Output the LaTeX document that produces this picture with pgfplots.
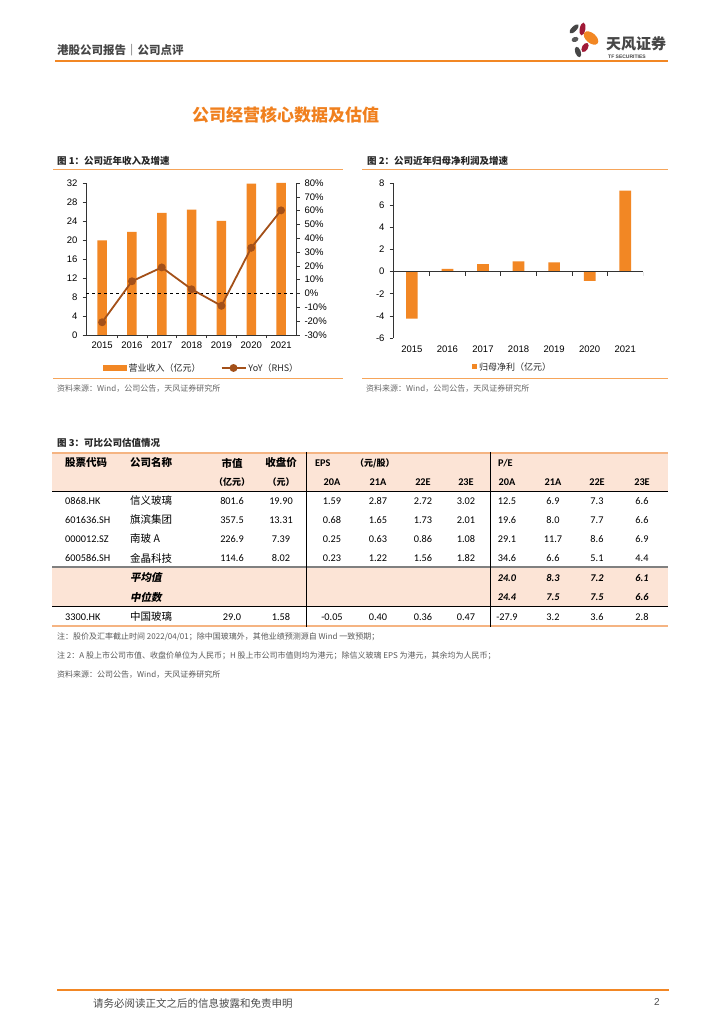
\documentclass[border=0pt]{standalone}
\usepackage{pgfplots}
\usepackage{pgfplotstable}
\pgfplotsset{compat=1.18}
\usepackage{fontspec}
\setmainfont{Liberation Sans}
\newfontfamily\cjk{Noto Sans CJK SC}
\newfontfamily\cjkbi{Noto Sans CJK SC}[FakeSlant=0.2]
\newfontfamily\calfont{Carlito}
\definecolor{tforange}{RGB}{242,135,36}
\definecolor{tfline}{RGB}{246,165,90}
\definecolor{tfbrown}{RGB}{163,80,25}
\definecolor{peach}{RGB}{252,228,214}
\definecolor{tfred}{RGB}{160,25,55}
\definecolor{tfgray}{RGB}{70,70,70}
\definecolor{titleorange}{RGB}{240,128,30}
\definecolor{tabline}{RGB}{245,180,130}

\pgfplotstableread{
year rev yoy
2015 19.9 -20.8
2016 21.7 8.9
2017 25.7 18.9
2018 26.4 3.1
2019 24.05 -8.9
2020 31.85 33.1
2021 32.0 60.2
}\revtable

\pgfplotstableread{
year np
2015 -4.26
2016 0.24
2017 0.66
2018 0.93
2019 0.84
2020 -0.84
2021 7.31
}\nptable

\newcommand{\tnum}{\calfont\fontsize{10.3}{12}\selectfont}
\newcommand{\tcn}{\cjk\fontsize{10.5}{12}\selectfont}
\newcommand{\tcnb}{\cjk\bfseries\fontsize{10.5}{12}\selectfont}
\newcommand{\tnumb}{\calfont\bfseries\fontsize{10.3}{12}\selectfont}
\newcommand{\tnumbi}{\calfont\bfseries\itshape\fontsize{10.3}{12}\selectfont}

\begin{document}
\begin{tikzpicture}[x=1pt,y=1pt]
\fill[white] (0,0) rectangle (724,1024);
\useasboundingbox (0,0) rectangle (724,1024);

% ---------------- Chart 1 ----------------
\begin{axis}[
  at={(86pt,689pt)}, anchor=south west,
  scale only axis, width=210pt, height=152pt,
  xmin=2014.46, xmax=2021.5, ymin=0, ymax=32,
  axis x line*=bottom, axis y line*=left,
  axis line style={black!80, line width=0.6pt},
  tick align=outside,
  ytick={0,4,...,32},
  xtick={2015.5,2016.5,2017.5,2018.5,2019.5,2020.5},
  xticklabels={},
  major tick length=3.5pt,
  extra x ticks={2015,2016,2017,2018,2019,2020,2021},
  extra x tick labels={2015,2016,2017,2018,2019,2020,2021},
  extra x tick style={major tick length=0pt},
  xticklabel style={yshift=-3.5pt},
  yticklabel style={xshift=-1.5pt},
  tick style={black!80, line width=0.6pt},
  tick label style={font=\fontsize{9.5}{10}\selectfont, black},
  /pgf/number format/assume math mode=true,
  ybar, bar width=9.5pt,
]
\addplot[fill=tforange, draw=none] table[x=year,y=rev]{\revtable};
\end{axis}

\begin{axis}[
  at={(86pt,689pt)}, anchor=south west,
  scale only axis, width=210pt, height=152pt,
  xmin=2014.46, xmax=2021.5, ymin=-30, ymax=80,
  axis y line*=right, axis x line=none,
  axis line style={black!80, line width=0.6pt},
  tick align=outside, major tick length=3.5pt,
  tick style={black!80, line width=0.6pt},
  ytick={-30,-20,...,80},
  yticklabels={-30\%,-20\%,-10\%,0\%,10\%,20\%,30\%,40\%,50\%,60\%,70\%,80\%},
  yticklabel style={xshift=1.5pt},
  tick label style={font=\fontsize{9.5}{10}\selectfont, black},
  legend style={at={(0.081,-0.217)}, anchor=west, draw=none, fill=none,
    legend columns=2, inner sep=0pt,
    font=\cjk\fontsize{9}{10}\selectfont\color{black!85},
    /tikz/every even column/.append style={column sep=18pt}},
  legend cell align=left,
]
\addlegendimage{legend image code/.code={\fill[tforange] (0pt,-2.5pt) rectangle (23pt,2.5pt);}}
\addlegendentry{营业收入（亿元）}
\draw[dashed, black, line width=0.6pt] (axis cs:2014.46,0) -- (axis cs:2021.5,0);
\addplot[tfbrown, line width=1.8pt, mark=*, mark size=3pt, mark options={fill=tfbrown},
  legend image code/.code={\draw[tfbrown,line width=1.8pt] (0pt,0pt) -- (24pt,0pt); \fill[tfbrown] (12pt,0pt) circle (3pt);}]
  table[x=year,y=yoy]{\revtable};
\addlegendentry{YoY（RHS）}
\end{axis}

% ---------------- Chart 2 ----------------
\begin{axis}[
  at={(393pt,686pt)}, anchor=south west,
  scale only axis, width=250pt, height=155pt,
  xmin=2014.47, xmax=2021.5, ymin=-6, ymax=8,
  axis y line*=left, axis x line*=bottom,
  x axis line style={draw=none},
  axis line style={black!80, line width=0.6pt},
  tick align=outside, major tick length=3.5pt,
  tick style={black!80, line width=0.6pt},
  ytick={-6,-4,...,8},
  xtick=\empty,
  extra x ticks={2015,2016,2017,2018,2019,2020,2021},
  extra x tick labels={2015,2016,2017,2018,2019,2020,2021},
  extra x tick style={major tick length=0pt},
  xticklabel style={yshift=-4.5pt},
  yticklabel style={xshift=-1.5pt},
  tick label style={font=\fontsize{9.5}{10}\selectfont, black},
  /pgf/number format/assume math mode=true,
  ybar, bar width=11.7pt,
  legend style={at={(0.316,-0.187)}, anchor=west, draw=none, fill=none, inner sep=0pt,
    font=\cjk\fontsize{9}{10}\selectfont\color{black!85}},
]
\addplot[fill=tforange, draw=none,
  legend image code/.code={\fill[tforange] (0pt,-2.5pt) rectangle (5pt,2.5pt);}]
  table[x=year,y=np]{\nptable};
\addlegendentry{归母净利（亿元）}
\draw[black!80, line width=0.6pt] (axis cs:2014.47,0) -- (axis cs:2021.5,0);
\draw[black!80, line width=0.6pt] (axis cs:2015.5,0) -- ++(0pt,-4pt);
\draw[black!80, line width=0.6pt] (axis cs:2016.5,0) -- ++(0pt,-4pt);
\draw[black!80, line width=0.6pt] (axis cs:2017.5,0) -- ++(0pt,-4pt);
\draw[black!80, line width=0.6pt] (axis cs:2018.5,0) -- ++(0pt,-4pt);
\draw[black!80, line width=0.6pt] (axis cs:2019.5,0) -- ++(0pt,-4pt);
\draw[black!80, line width=0.6pt] (axis cs:2020.5,0) -- ++(0pt,-4pt);
\draw[black!80, line width=0.6pt] (axis cs:2021.5,0) -- ++(0pt,-4pt);
\end{axis}

% ---------------- page elements (y measured downward) ----------------
\begin{scope}[yshift=1024pt, y=-1pt]
% header
\node[anchor=west, font=\cjk\bfseries\fontsize{11.5}{12}\selectfont, text=tfgray, inner sep=0pt] at (57,50) {港股公司报告｜公司点评};
\draw[tforange, line width=1.5pt] (55,61) -- (668,61);
% logo
\fill[tfgray, rotate around={45:(574,29)}] (574,29) ellipse (6 and 2.5);
\fill[tfred, rotate around={80:(582.5,29)}] (582.5,29) ellipse (6.5 and 2.8);
\fill[tforange, rotate around={-40:(591,38)}] (591,38) ellipse (8.5 and 5);
\fill[tfgray!90, rotate around={20:(575,39.5)}] (575,39.5) ellipse (3.5 and 2.5);
\fill[tfred, rotate around={60:(585,47.5)}] (585,47.5) ellipse (5 and 3);
\fill[tfgray, rotate around={-70:(578,52)}] (578,52) ellipse (5.5 and 2.8);
\node[anchor=west, font=\cjk\bfseries\fontsize{15}{16}\selectfont, text=tfgray, inner sep=0pt] at (606,44) {天风证券};
\node[anchor=west, font=\bfseries\fontsize{5}{6}\selectfont, text=tfgray, inner sep=0pt] at (608,56.5) {TF SECURITIES};
% title
\node[font=\cjk\bfseries\fontsize{17}{18}\selectfont, text=titleorange, inner sep=0pt] at (285.5,115) {公司经营核心数据及估值};

% figure titles
\node[anchor=west, font=\cjk\bfseries\fontsize{9.5}{10}\selectfont, text=black!85, inner sep=0pt] at (57,161) {图 1：公司近年收入及增速};
\node[anchor=west, font=\cjk\bfseries\fontsize{9.5}{10}\selectfont, text=black!85, inner sep=0pt] at (367,161) {图 2：公司近年归母净利润及增速};
\draw[tfline, line width=1pt] (53,170) -- (343,170);
\draw[tfline, line width=1pt] (362,170) -- (668,170);
\draw[tfline, line width=1pt] (53,379) -- (343,379);
\draw[tfline, line width=1pt] (362,379) -- (668,379);
\node[anchor=west, font=\cjk\fontsize{8}{9}\selectfont, text=black!60, inner sep=0pt] at (57,389) {资料来源：Wind，公司公告，天风证券研究所};
\node[anchor=west, font=\cjk\fontsize{8}{9}\selectfont, text=black!60, inner sep=0pt] at (366,389) {资料来源：Wind，公司公告，天风证券研究所};

% table
\node[anchor=west, font=\cjk\bfseries\fontsize{9.5}{10}\selectfont, text=black!85, inner sep=0pt] at (57,443) {图 3：可比公司估值情况};
\fill[peach] (52,453) rectangle (668,491);
\fill[peach] (52,567) rectangle (668,606);
\draw[tabline, line width=2pt] (52,453) -- (668,453);
\draw[tabline, line width=2pt] (52,626) -- (668,626);
\draw[black, line width=0.9pt] (52,491) -- (668,491);
\draw[black!50, line width=2pt] (52,567) -- (668,567);
\draw[black, line width=0.9pt] (52,606) -- (668,606);
\draw[black, line width=0.9pt] (306,452) -- (306,627);
\draw[black, line width=0.9pt] (490,452) -- (490,627);

\begin{scope}[every node/.style={inner sep=0pt}]
% header row 1
\node[anchor=west, font=\tcnb] at (65,463) {股票代码};
\node[anchor=west, font=\tcnb] at (130,463) {公司名称};
\node[font=\tcnb] at (232,463) {市值};
\node[font=\tcnb] at (281,463) {收盘价};
\node[anchor=west, font=\tnumb] at (315,463) {EPS};
\node[anchor=west, font=\cjk\bfseries\fontsize{9}{10}\selectfont] at (355,463) {（元/股）};
\node[anchor=west, font=\tnumb] at (498,463) {P/E};
% header row 2
\node[font=\cjk\bfseries\fontsize{9}{10}\selectfont] at (232,482) {（亿元）};
\node[font=\cjk\bfseries\fontsize{9}{10}\selectfont] at (281,482) {（元）};
\node[font=\tnumb] at (332,482) {20A};
\node[font=\tnumb] at (378,482) {21A};
\node[font=\tnumb] at (423,482) {22E};
\node[font=\tnumb] at (466,482) {23E};
\node[font=\tnumb] at (507,482) {20A};
\node[font=\tnumb] at (553,482) {21A};
\node[font=\tnumb] at (597,482) {22E};
\node[font=\tnumb] at (642,482) {23E};
% data rows
\foreach \y/\code/\name/\mv/\pr/\ea/\eb/\ec/\ed/\pa/\pb/\pc/\pd in {
  501/0868.HK/信义玻璃/801.6/19.90/1.59/2.87/2.72/3.02/12.5/6.9/7.3/6.6,
  520/601636.SH/旗滨集团/357.5/13.31/0.68/1.65/1.73/2.01/19.6/8.0/7.7/6.6,
  539/000012.SZ/南玻 A/226.9/7.39/0.25/0.63/0.86/1.08/29.1/11.7/8.6/6.9,
  558/600586.SH/金晶科技/114.6/8.02/0.23/1.22/1.56/1.82/34.6/6.6/5.1/4.4,
  617/3300.HK/中国玻璃/29.0/1.58/-0.05/0.40/0.36/0.47/-27.9/3.2/3.6/2.8}{
  \node[anchor=west, font=\tnum] at (65,\y) {\code};
  \node[anchor=west, font=\tcn] at (130,\y) {\name};
  \node[font=\tnum] at (232,\y) {\mv};
  \node[font=\tnum] at (281,\y) {\pr};
  \node[font=\tnum] at (332,\y) {\ea};
  \node[font=\tnum] at (378,\y) {\eb};
  \node[font=\tnum] at (423,\y) {\ec};
  \node[font=\tnum] at (466,\y) {\ed};
  \node[font=\tnum] at (507,\y) {\pa};
  \node[font=\tnum] at (553,\y) {\pb};
  \node[font=\tnum] at (597,\y) {\pc};
  \node[font=\tnum] at (642,\y) {\pd};
}
\foreach \y/\name/\pa/\pb/\pc/\pd in {578/平均值/24.0/8.3/7.2/6.1, 597/中位数/24.4/7.5/7.5/6.6}{
  \node[anchor=west, font=\cjkbi\bfseries\fontsize{10.5}{12}\selectfont] at (130,\y) {\name};
  \node[font=\tnumbi] at (507,\y) {\pa};
  \node[font=\tnumbi] at (553,\y) {\pb};
  \node[font=\tnumbi] at (597,\y) {\pc};
  \node[font=\tnumbi] at (642,\y) {\pd};
}
\end{scope}

% notes
\node[anchor=west, font=\cjk\fontsize{8}{9}\selectfont, text=black!65, inner sep=0pt] at (57,637) {注：股价及汇率截止时间 2022/04/01；除中国玻璃外，其他业绩预测源自 Wind 一致预期；};
\node[anchor=west, font=\cjk\fontsize{8}{9}\selectfont, text=black!65, inner sep=0pt] at (57,656) {注 2：A 股上市公司市值、收盘价单位为人民币；H 股上市公司市值则均为港元；除信义玻璃 EPS 为港元，其余均为人民币；};
\node[anchor=west, font=\cjk\fontsize{8}{9}\selectfont, text=black!65, inner sep=0pt] at (57,675) {资料来源：公司公告，Wind，天风证券研究所};

% footer
\draw[tforange, line width=1.5pt] (57,990) -- (669,990);
\node[anchor=west, font=\cjk\fontsize{10.5}{12}\selectfont, text=black!70, inner sep=0pt] at (93,1003) {请务必阅读正文之后的信息披露和免责申明};
\node[font=\fontsize{10}{12}\selectfont, text=black!70, inner sep=0pt] at (657,1002) {2};
\end{scope}
\end{tikzpicture}
\end{document}
